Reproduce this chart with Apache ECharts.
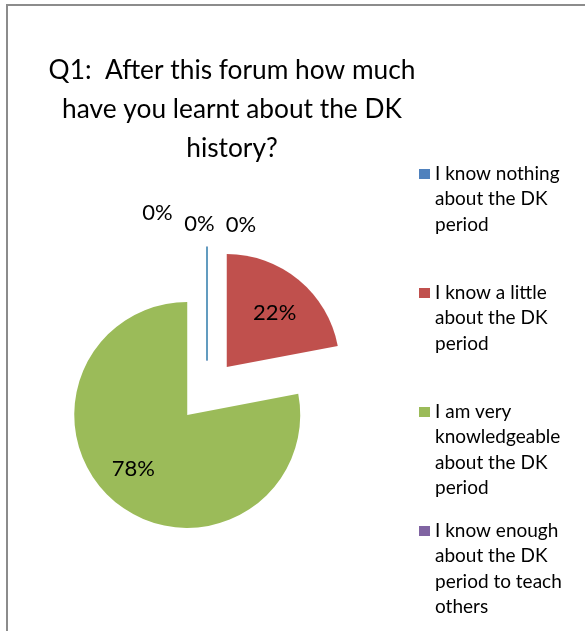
<!DOCTYPE html>
<html><head><meta charset="utf-8">
<script src="https://cdn.jsdelivr.net/npm/echarts@6/dist/echarts.min.js"></script>
<style>html,body{margin:0;padding:0;background:#fff}#c{width:585px;height:631px}</style>
</head><body><div id="c"></div>
<script>
const titleLines = ['Q1:  After this forum how much', 'have you learnt about the DK', 'history?'];
const categories = [
  'I know nothing about the DK period',
  'I know a little about the DK period',
  'I am very knowledgeable about the DK period',
  'I know enough about the DK period to teach others',
  ''
];
const legendLines = [
  ['I know nothing', 'about the DK', 'period'],
  ['I know a little', 'about the DK', 'period'],
  ['I am very', 'knowledgeable', 'about the DK', 'period'],
  ['I know enough', 'about the DK', 'period to teach', 'others']
];
const values = [0, 22, 78, 0, 0];
const colors = ['#4F81BD', '#C0504D', '#9BBB59', '#8064A2', '#4BACC6'];

const FONT = 'Lato';
const labelOffsets = [[34, -75.5], [10, -8], [-16, 8], [-7.5, -77], [-49.5, -87.5]];
const legendCenters = [174, 293, 412, 531];
const LH = 25.3;

function iconPath(n) {
  const H = n * LH;
  return 'path://M0,0h0.01v0.01h-0.01z' +
    'M0,' + (LH / 2 - 5) + 'h11v10h-11z' +
    'M10.99,' + (H - 0.01) + 'h0.01v0.01h-0.01z';
}

const chart = echarts.init(document.getElementById('c'), null, {renderer: 'canvas'});
const legends = legendLines.map((lines, i) => ({
  show: true,
  orient: 'vertical',
  left: 419,
  top: legendCenters[i] - LH / 2,
  padding: 0,
  itemWidth: 11,
  itemHeight: lines.length * LH,
  symbolKeepAspect: false,
  icon: iconPath(lines.length),
  itemStyle: {borderWidth: 0},
  selectedMode: false,
  data: [categories[i]],
  formatter: () => lines.join('\n'),
  textStyle: {fontFamily: FONT, fontSize: 19, color: '#000', lineHeight: LH}
}));

chart.setOption({
  backgroundColor: '#fff',
  animation: false,
  title: {
    text: titleLines.join('\n'),
    left: 232, top: 51, padding: 0,
    textAlign: 'center',
    textStyle: {fontFamily: FONT, fontSize: 26.3, fontWeight: 'normal', color: '#000', lineHeight: 39}
  },
  legend: legends,
  graphic: [{
    type: 'rect', silent: true,
    shape: {x: 7, y: 5, width: 640, height: 700},
    style: {fill: 'none', stroke: '#8c8c8c', lineWidth: 2}
  }],
  series: [{
    type: 'pie',
    center: [207, 391],
    radius: 113,
    startAngle: 90,
    clockwise: true,
    selectedMode: 'multiple',
    selectedOffset: 31,
    avoidLabelOverlap: false,
    emphasis: {disabled: true},
    label: {show: true, position: 'inside', formatter: '{d}%', fontFamily: FONT, fontSize: 22, color: '#000'},
    labelLine: {show: false},
    labelLayout: (p) => ({dx: labelOffsets[p.dataIndex][0], dy: labelOffsets[p.dataIndex][1]}),
    data: values.map((v, i) => {
      const st = {color: colors[i], borderColor: colors[i], borderWidth: v === 0 ? 1.2 : 0};
      return {
        name: categories[i], value: v, selected: true,
        itemStyle: st,
        select: {itemStyle: st, label: {color: '#000'}}
      };
    })
  }]
});
</script></body></html>
